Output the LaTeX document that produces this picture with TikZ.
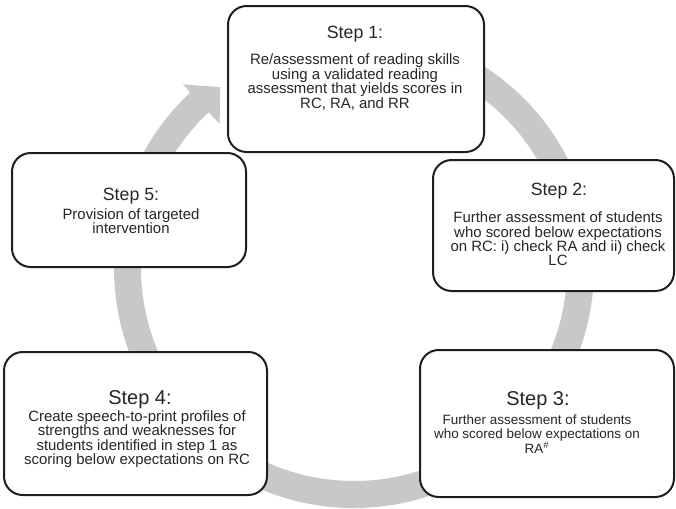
\documentclass[tikz,border=0pt]{standalone}
\usepackage{fontspec}
\setmainfont{Liberation Sans}
\usetikzlibrary{calc}
\definecolor{ringgray}{HTML}{C8C8C8}
\definecolor{boxline}{HTML}{1E1E1E}
\definecolor{txt}{HTML}{262626}
\begin{document}
\begin{tikzpicture}[x=0.75pt,y=0.75pt,
 stepbox/.style={draw=boxline, line width=1.5pt, rounded corners=14pt, fill=white, inner sep=0pt},
 ttl/.style={text=txt, inner sep=0pt, anchor=base, font=\fontsize{13.3}{15}\selectfont},
 bigttl/.style={ttl, font=\fontsize{15}{17}\selectfont},
 bodytxt/.style={text=txt, inner sep=0pt, align=center, anchor=center, font=\fontsize{11.2}{10.8}\selectfont},
 smallbody/.style={bodytxt, font=\fontsize{10.1}{10.4}\selectfont},
]
\fill[white] (0,0) rectangle (676,-508);
\useasboundingbox (0,0) rectangle (676,-508);

% circular arrow
\coordinate (C) at (354,-268);
\fill[ringgray] ($(C)+(100:240)$) arc[start angle=100, end angle=-227, radius=240]
  -- ($(C)+(133:251)$) -- ($(C)+(126.5:225)$) -- ($(C)+(133:197)$)
  -- ($(C)+(-227:213)$) arc[start angle=-227, end angle=100, radius=213] -- cycle;

% boxes
\node[stepbox, minimum width=0.75*256pt, minimum height=0.75*146pt] (b1) at (356,-79) {};
\node[stepbox, minimum width=0.75*241pt, minimum height=0.75*131pt] (b2) at (553.5,-225.5) {};
\node[stepbox, minimum width=0.75*254pt, minimum height=0.75*147pt] (b3) at (547,-423.5) {};
\node[stepbox, minimum width=0.75*263pt, minimum height=0.75*143pt] (b4) at (135.5,-423.5) {};
\node[stepbox, minimum width=0.75*234pt, minimum height=0.75*114pt] (b5) at (129,-210) {};

% texts
\node[ttl] (t1) at (355,-38) {Step 1:};
\node[bodytxt] (d1) at (355,-82) {Re/assessment of reading skills\\using a validated reading\\assessment that yields scores in\\RC, RA, and RR};

\node[ttl] (t2) at (559,-195) {Step 2:};
\node[bodytxt] (d2) at (558,-239) {Further assessment of students\\who scored below expectations\\on RC: i) check RA and ii) check\\LC};

\node[bigttl] (t3) at (538,-405) {Step 3:};
\node[smallbody] (d3) at (537,-434) {Further assessment of students\\who scored below expectations on\\RA\textsuperscript{\#}};

\node[bigttl] (t4) at (140,-404) {Step 4:};
\node[bodytxt] (d4) at (137,-439) {Create speech-to-print profiles of\\strengths and weaknesses for\\students identified in step 1 as\\scoring below expectations on RC};

\node[ttl] (t5) at (131,-200) {Step 5:};
\node[bodytxt] (d5) at (131,-221) {Provision of targeted\\intervention};
\end{tikzpicture}
\end{document}
